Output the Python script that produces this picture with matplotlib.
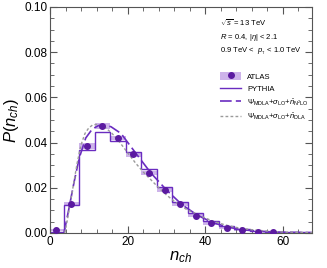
import numpy as np
import matplotlib
matplotlib.use("Agg")
import matplotlib.pyplot as plt
from matplotlib.patches import Patch
from matplotlib.lines import Line2D

plt.rcParams['font.family'] = ['Liberation Sans', 'DejaVu Sans']
plt.rcParams['mathtext.fontset'] = 'custom'
plt.rcParams['mathtext.rm'] = 'Liberation Sans'
plt.rcParams['mathtext.it'] = 'Liberation Sans:italic'
plt.rcParams['mathtext.bf'] = 'Liberation Sans:bold'

# bin edges and PYTHIA histogram
edges = np.arange(-0.5, 68, 4)
pythia = [0.0006, 0.0124, 0.0369, 0.0448, 0.0406, 0.0360, 0.0282, 0.0201, 0.0137,
          0.0086, 0.0052, 0.0030, 0.0017, 0.0010, 0.0005, 0.0003, 0.0002]

# ATLAS data
atlas_x = [1.5, 5.5, 9.5, 13.5, 17.5, 21.5, 25.5, 29.5, 33.5, 37.5, 41.5, 45.5, 49.5, 53.5, 57.5]
atlas_y = [0.0012, 0.0129, 0.0384, 0.0473, 0.0420, 0.0348, 0.0267, 0.0189, 0.0127,
           0.0076, 0.0042, 0.0022, 0.0012, 0.0006, 0.0003]
atlas_err = [0.0005, 0.0008, 0.0012, 0.0012, 0.0011, 0.0010, 0.0009, 0.0008, 0.0007,
             0.0006, 0.0005, 0.0004, 0.0003, 0.0002, 0.0002]

# MDLA + N2LO curve (dashed)
n2lo_x = [3.6, 4.9, 6.2, 7.5, 9.2, 10.9, 12.5, 14.0, 15.7, 18.3, 22, 26, 30, 34, 38, 42, 46, 50, 55, 60, 67.5]
n2lo_y = [0.0, 0.0110, 0.0225, 0.0330, 0.0420, 0.0460, 0.0475, 0.0477, 0.0470, 0.0440,
          0.0355, 0.0265, 0.0190, 0.0125, 0.0078, 0.0045, 0.0025, 0.0013, 0.0006, 0.0003, 0.0001]

# MDLA + DLA curve (dotted)
dla_x = [3.8, 4.5, 5, 6, 7, 8, 9, 10, 11, 12, 13, 14, 16, 18, 20, 22, 24, 26, 28, 30, 32,
         34, 36, 38, 40, 42, 45, 48, 52, 56, 60, 67.5]
dla_y = [0.0, 0.006, 0.011, 0.021, 0.031, 0.039, 0.044, 0.0465, 0.0478, 0.0480, 0.0477,
         0.0470, 0.0440, 0.0400, 0.0355, 0.0310, 0.0270, 0.0235, 0.0200, 0.0168, 0.0140,
         0.0115, 0.0097, 0.0082, 0.0066, 0.0052, 0.0036, 0.0024, 0.0014, 0.0008, 0.0004, 0.0001]

purple = '#5b1aa0'
line_purple = '#6a2cc0'
band = '#cdb3ea'
gray = '#9a9a9a'

fig = plt.figure(figsize=(3.27, 2.68), dpi=100)
ax = fig.add_axes([0.153, 0.131, 0.801, 0.843])

ax.bar(atlas_x, 2 * np.array(atlas_err), bottom=np.array(atlas_y) - np.array(atlas_err),
       width=4, color=band, edgecolor='none', zorder=1)
ax.stairs(pythia, edges, color=line_purple, lw=1.0, zorder=2)
ax.plot(n2lo_x, n2lo_y, color=line_purple, lw=1.2, dashes=(7, 2.5), zorder=3)
ax.plot(dla_x, dla_y, color=gray, lw=1.0, dashes=(2, 1.6), zorder=3)
ax.plot(atlas_x, atlas_y, 'o', color=purple, ms=4, zorder=4)

ax.set_xlim(0, 67.5)
ax.set_ylim(0, 0.10)
ax.set_xticks([0, 20, 40, 60])
ax.set_xticks(np.arange(0, 68, 4), minor=True)
ax.set_yticks([0, 0.02, 0.04, 0.06, 0.08, 0.10])
ax.set_yticklabels(['0.00', '0.02', '0.04', '0.06', '0.08', '0.10'])
ax.set_yticks(np.arange(0, 0.1001, 0.005), minor=True)
ax.tick_params(which='both', direction='in', top=True, right=True, color='#555555',
               labelsize=8.5, pad=2)
ax.tick_params(which='major', length=5, width=0.8)
ax.tick_params(which='minor', length=3, width=0.6)
for s in ax.spines.values():
    s.set_color('#555555')
    s.set_linewidth(0.8)

ax.set_xlabel(r'$n_{ch}$', fontsize=12, labelpad=1)
ax.set_ylabel(r'$P(n_{ch})$', fontsize=12, labelpad=2)

ax.text(0.649, 0.929, r'$\sqrt{s}$ = 13 TeV', transform=ax.transAxes, fontsize=5.5, va='center')
ax.text(0.649, 0.867, r'$R$ = 0.4, |$\eta$| < 2.1', transform=ax.transAxes, fontsize=5.5, va='center')
ax.text(0.649, 0.805, r'0.9 TeV <  $p_{_{\rm T}}$ < 1.0 TeV', transform=ax.transAxes, fontsize=5.5, va='center')

h_atlas = (Patch(facecolor=band, edgecolor='none'),
           Line2D([], [], marker='o', ls='none', color=purple, ms=4))
h_py = Line2D([], [], color=line_purple, lw=1.0)
h_n2 = Line2D([], [], color=line_purple, lw=1.2, dashes=(7, 2.5))
h_dla = Line2D([], [], color=gray, lw=1.0, dashes=(2, 1.6))
ax.legend([h_atlas, h_py, h_n2, h_dla],
          ['ATLAS', 'PYTHIA',
           r'$\Psi_{\rm MDLA}$+$\sigma_{\rm LO}$+$\bar{n}_{\rm N^2LO}$',
           r'$\Psi_{\rm MDLA}$+$\sigma_{\rm LO}$+$\bar{n}_{\rm DLA}$'],
          loc='upper left', bbox_to_anchor=(0.65, 0.712), frameon=False, fontsize=5.5,
          handlelength=2.7, handleheight=1.3, handletextpad=0.8, labelspacing=0.5,
          borderpad=0, borderaxespad=0)

fig.savefig('out.png', dpi=100)
